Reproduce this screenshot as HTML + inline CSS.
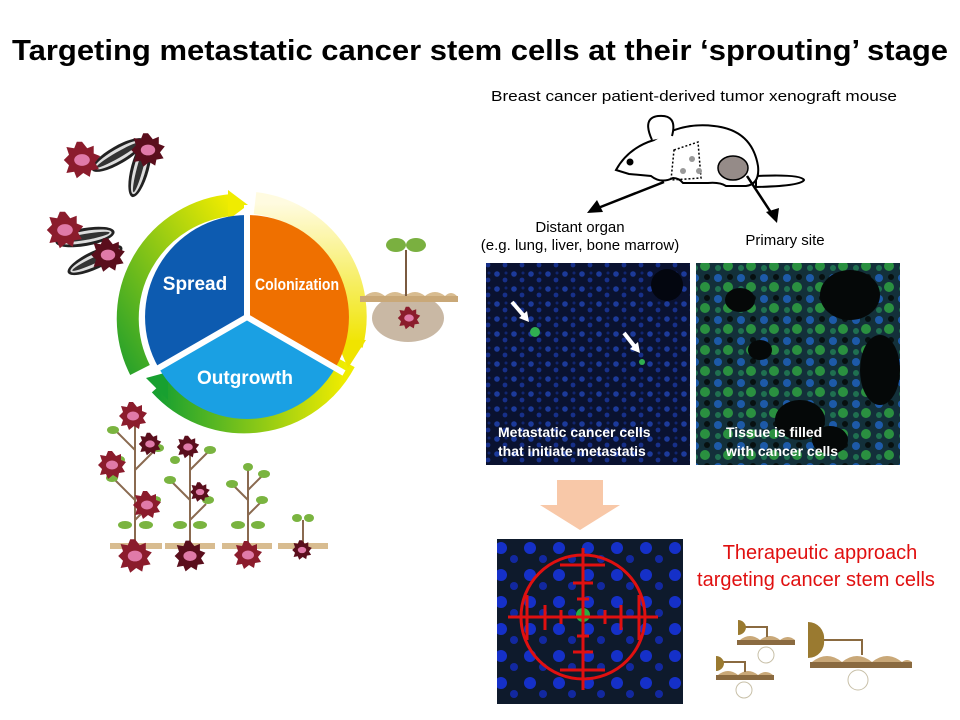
<!DOCTYPE html>
<html><head><meta charset="utf-8"><style>
html,body{margin:0;padding:0;background:#fff;}
svg{display:block;}
</style></head><body>
<svg width="960" height="720" viewBox="0 0 960 720" xmlns="http://www.w3.org/2000/svg" font-family="Liberation Sans, sans-serif">
<defs>
  <g id="fl">
    <polygon points="0,-14 4,-9 9,-11 9,-5 14,-3 10,2 13,7 7,8 6,13 1,10 -4,14 -6,9 -12,10 -10,4 -14,0 -10,-4 -12,-10 -6,-9 -4,-14" fill="#8b1c2c"/>
    <ellipse cx="0" cy="0" rx="6" ry="4.5" fill="#e07aa8"/>
  </g>
  <g id="fld">
    <polygon points="0,-14 4,-9 9,-11 9,-5 14,-3 10,2 13,7 7,8 6,13 1,10 -4,14 -6,9 -12,10 -10,4 -14,0 -10,-4 -12,-10 -6,-9 -4,-14" fill="#5a0e1c"/>
    <ellipse cx="0" cy="0" rx="6" ry="4.5" fill="#e07aa8"/>
  </g>
  <g id="seed">
    <ellipse cx="0" cy="0" rx="9" ry="30" fill="#222"/>
    <ellipse cx="0" cy="0" rx="6" ry="27" fill="#ddd"/>
    <ellipse cx="0" cy="0" rx="3" ry="25" fill="#333"/>
  </g>
  <linearGradient id="gA" x1="0" y1="1" x2="1" y2="0"><stop offset="0" stop-color="#2aa22a"/><stop offset="1" stop-color="#f0ec00"/></linearGradient>
  <linearGradient id="gB" x1="0" y1="0" x2="0" y2="1"><stop offset="0" stop-color="#fffbe0"/><stop offset="1" stop-color="#f0e400"/></linearGradient>
  <linearGradient id="gC" x1="1" y1="0" x2="0" y2="0"><stop offset="0" stop-color="#f0ec00"/><stop offset="1" stop-color="#18a030"/></linearGradient>
  <pattern id="nuc" width="17" height="15" patternUnits="userSpaceOnUse">
    <rect width="17" height="15" fill="#0a1230"/>
    <circle cx="4" cy="4" r="2.8" fill="#1c3a9a"/><circle cx="12" cy="10" r="2.4" fill="#17308a"/><circle cx="13" cy="3" r="1.5" fill="#112670"/>
  </pattern>
  <pattern id="tis" width="23" height="21" patternUnits="userSpaceOnUse">
    <rect width="23" height="21" fill="#13303a"/>
    <circle cx="5" cy="5" r="4" fill="#1d5aa8"/><circle cx="15" cy="14" r="5" fill="#2a9040"/><circle cx="17" cy="4" r="3" fill="#071010"/><circle cx="5" cy="16" r="3" fill="#1f7050"/>
  </pattern>
  <pattern id="big" width="29" height="27" patternUnits="userSpaceOnUse">
    <rect width="29" height="27" fill="#0e1a2c"/>
    <circle cx="8" cy="8" r="6" fill="#1530c8"/><circle cx="21" cy="19" r="4" fill="#1228a0"/>
  </pattern>
</defs>

<text x="480" y="60" text-anchor="middle" font-size="29" font-weight="bold" textLength="936" lengthAdjust="spacingAndGlyphs">Targeting metastatic cancer stem cells at their ‘sprouting’ stage</text>

<!-- seeds/flowers top-left -->
<g transform="translate(118,155) rotate(60)"><use href="#seed"/></g>
<g transform="translate(140,168) rotate(15)"><use href="#seed"/></g>
<g transform="translate(82,160) scale(1.3)"><use href="#fl"/></g>
<g transform="translate(148,150) scale(1.2)"><use href="#fld"/></g>
<g transform="translate(85,237) rotate(80)"><use href="#seed"/></g>
<g transform="translate(95,260) rotate(65)"><use href="#seed"/></g>
<g transform="translate(65,230) scale(1.3)"><use href="#fl"/></g>
<g transform="translate(108,255) scale(1.2)"><use href="#fld"/></g>

<!-- cycle ring -->
<g fill="none" stroke-width="22">
  <path d="M140,370 A114,114 0 0 1 232,205" stroke="url(#gA)"/>
  <path d="M255,203 A114,114 0 0 1 352,345" stroke="url(#gB)"/>
  <path d="M345,362 A114,114 0 0 1 160,385" stroke="url(#gC)"/>
</g>
<polygon points="228,190 248,205 228,220" fill="#f0ec00"/>
<polygon points="336,340 366,340 348,368" fill="#f0e400"/>
<polygon points="168,372 168,400 146,378" fill="#18a030"/>
<!-- pie -->
<path d="M247,317 L247,215 A102,102 0 0 0 158.7,368 Z" fill="#0d5bb0"/>
<path d="M247,317 L247,215 A102,102 0 0 1 335.3,368 Z" fill="#ef7000"/>
<path d="M247,317 L335.3,368 A102,102 0 0 1 158.7,368 Z" fill="#1aa0e3"/>
<g stroke="#fff" stroke-width="6"><line x1="247" y1="317" x2="247" y2="205"/><line x1="247" y1="317" x2="344" y2="373"/><line x1="247" y1="317" x2="150" y2="373"/></g>
<g fill="#fff" font-weight="bold" font-size="19">
<text x="195" y="290" text-anchor="middle">Spread</text>
<text x="297" y="290" text-anchor="middle" font-size="17" textLength="84" lengthAdjust="spacingAndGlyphs">Colonization</text>
<text x="245" y="384" text-anchor="middle">Outgrowth</text>
</g>

<!-- sprout right -->
<ellipse cx="408" cy="318" rx="36" ry="24" fill="#c9b8a4"/>
<rect x="360" y="296" width="98" height="6" fill="#c9a878"/>
<path d="M365,296 q10,-8 20,0 q10,-8 20,0 q10,-8 20,0 q10,-8 20,0 q6,-6 12,0z" fill="#d8bc90"/>
<line x1="406" y1="296" x2="406" y2="250" stroke="#7a5a40" stroke-width="2"/>
<ellipse cx="396" cy="245" rx="10" ry="7" fill="#7ab040"/><ellipse cx="416" cy="245" rx="10" ry="7" fill="#7ab040"/>
<use href="#fl" transform="translate(409,318) scale(0.8)"/>

<!-- plants bottom -->
<g stroke="#8a6a50" stroke-width="2" fill="none">
  <line x1="135" y1="545" x2="135" y2="420"/><line x1="190" y1="545" x2="190" y2="445"/><line x1="248" y1="545" x2="248" y2="470"/><line x1="303" y1="545" x2="303" y2="520"/>
  <path d="M135,500 l-20,-20 M135,470 l20,-20 M135,450 l-18,-18 M135,520 l18,-18 M190,500 l-18,-18 M190,470 l18,-18 M190,520 l16,-16 M248,500 l-15,-15 M248,490 l15,-15 M248,515 l14,-14"/>
</g>
<g fill="#7ab440">
  <ellipse cx="112" cy="478" rx="6" ry="4"/><ellipse cx="158" cy="448" rx="6" ry="4"/><ellipse cx="113" cy="430" rx="6" ry="4"/><ellipse cx="155" cy="500" rx="6" ry="4"/><ellipse cx="125" cy="525" rx="7" ry="4"/><ellipse cx="146" cy="525" rx="7" ry="4"/><ellipse cx="120" cy="460" rx="5" ry="4"/>
  <ellipse cx="170" cy="480" rx="6" ry="4"/><ellipse cx="210" cy="450" rx="6" ry="4"/><ellipse cx="208" cy="500" rx="6" ry="4"/><ellipse cx="180" cy="525" rx="7" ry="4"/><ellipse cx="200" cy="525" rx="7" ry="4"/><ellipse cx="175" cy="460" rx="5" ry="4"/>
  <ellipse cx="232" cy="484" rx="6" ry="4"/><ellipse cx="264" cy="474" rx="6" ry="4"/><ellipse cx="262" cy="500" rx="6" ry="4"/><ellipse cx="238" cy="525" rx="7" ry="4"/><ellipse cx="258" cy="525" rx="7" ry="4"/><ellipse cx="248" cy="467" rx="5" ry="4"/>
  <ellipse cx="297" cy="518" rx="5" ry="4"/><ellipse cx="309" cy="518" rx="5" ry="4"/>
</g>
<use href="#fl" transform="translate(133,416)"/><use href="#fld" transform="translate(150,444) scale(0.8)"/><use href="#fl" transform="translate(112,465)"/><use href="#fl" transform="translate(147,505)"/>
<use href="#fld" transform="translate(188,447) scale(0.8)"/><use href="#fld" transform="translate(200,492) scale(0.7)"/>
<g fill="#d8bc90"><rect x="110" y="543" width="52" height="6"/><rect x="165" y="543" width="50" height="6"/><rect x="222" y="543" width="50" height="6"/><rect x="278" y="543" width="50" height="6"/></g>
<use href="#fl" transform="translate(135,556) scale(1.2)"/><use href="#fld" transform="translate(190,556) scale(1.1)"/><use href="#fl" transform="translate(248,555)"/><use href="#fld" transform="translate(302,550) scale(0.7)"/>

<!-- right side -->
<text x="694" y="101" text-anchor="middle" font-size="15" textLength="406" lengthAdjust="spacingAndGlyphs">Breast cancer patient-derived tumor xenograft mouse</text>
<!-- mouse -->
<g stroke="#000" stroke-width="2" fill="#fff">
  <path d="M756,176 q45,-2 48,4 q-3,6 -48,7z"/>
  <path d="M616,170 q12,-22 38,-30 q28,-18 60,-14 q38,4 44,40 q2,18 -12,20 l-20,0 q-6,-4 -18,-3 l-25,0 q-4,-5 -10,-5 q-12,6 -22,-2 l-22,-2z"/>
  <path d="M652,140 q-10,-22 6,-24 q20,-2 14,20"/>
</g>
<circle cx="630" cy="162" r="3.5"/>
<path d="M674,150 l24,-8 l3,36 l-30,2z" fill="none" stroke="#000" stroke-width="1.5" stroke-dasharray="2,2"/>
<g fill="#999"><circle cx="683" cy="171" r="3"/><circle cx="692" cy="159" r="3"/><circle cx="699" cy="171" r="3"/></g>
<ellipse cx="733" cy="168" rx="15" ry="12" fill="#958b88" stroke="#000" stroke-width="1.5"/>
<g stroke="#000" stroke-width="2.5"><line x1="664" y1="182" x2="598" y2="208"/><line x1="747" y1="176" x2="772" y2="214"/></g>
<polygon points="587,213 597,200 603,212" fill="#000"/><polygon points="777,223 766,212 779,208" fill="#000"/>
<text x="580" y="232" text-anchor="middle" font-size="15">Distant organ</text>
<text x="580" y="250" text-anchor="middle" font-size="15">(e.g. lung, liver, bone marrow)</text>
<text x="785" y="245" text-anchor="middle" font-size="15">Primary site</text>

<rect x="486" y="263" width="204" height="202" fill="url(#nuc)"/>
<circle cx="667" cy="285" r="16" fill="#03060f"/>
<circle cx="535" cy="332" r="5" fill="#30b050"/><circle cx="642" cy="362" r="3" fill="#30b050"/>
<g stroke="#fff" stroke-width="4"><line x1="512" y1="302" x2="524" y2="316"/><line x1="624" y1="333" x2="635" y2="347"/></g>
<polygon points="519,318 529,322 527,311" fill="#fff"/><polygon points="630,349 640,353 638,342" fill="#fff"/>
<g fill="#fff" font-weight="bold" font-size="14"><text x="498" y="437">Metastatic cancer cells</text><text x="498" y="456">that initiate metastatis</text></g>

<rect x="696" y="263" width="204" height="202" fill="url(#tis)"/>
<g fill="#050808"><ellipse cx="850" cy="295" rx="30" ry="25"/><ellipse cx="880" cy="370" rx="20" ry="35"/><ellipse cx="800" cy="420" rx="25" ry="20"/><ellipse cx="740" cy="300" rx="15" ry="12"/><ellipse cx="760" cy="350" rx="12" ry="10"/><ellipse cx="830" cy="440" rx="18" ry="14"/></g>
<g fill="#fff" font-weight="bold" font-size="14"><text x="726" y="437">Tissue is filled</text><text x="726" y="456">with cancer cells</text></g>

<polygon points="557,480 603,480 603,505 620,505 580,530 540,505 557,505" fill="#f8c8a8"/>

<rect x="497" y="539" width="186" height="165" fill="url(#big)"/>
<circle cx="583" cy="615" r="7" fill="#28b040"/>
<g stroke="#e01010" stroke-width="3" fill="none">
  <circle cx="583" cy="617" r="62"/>
  <line x1="508" y1="617" x2="658" y2="617"/><line x1="583" y1="548" x2="583" y2="690"/>
  <line x1="560" y1="565" x2="605" y2="565"/><line x1="573" y1="583" x2="593" y2="583"/><line x1="577" y1="599" x2="589" y2="599"/>
  <line x1="560" y1="670" x2="605" y2="670"/><line x1="573" y1="652" x2="593" y2="652"/><line x1="577" y1="636" x2="589" y2="636"/>
  <line x1="527" y1="595" x2="527" y2="640"/><line x1="545" y1="605" x2="545" y2="630"/><line x1="561" y1="610" x2="561" y2="624"/>
  <line x1="639" y1="595" x2="639" y2="640"/><line x1="621" y1="605" x2="621" y2="630"/><line x1="605" y1="610" x2="605" y2="624"/>
</g>

<g fill="#e01010" font-size="20"><text x="820" y="559" text-anchor="middle">Therapeutic approach</text><text x="816" y="586" text-anchor="middle">targeting cancer stem cells</text></g>

<g fill="#c9a878">
  <rect x="737" y="640" width="58" height="5" fill="#8a6a40"/><path d="M740,640 q10,-8 20,0 q10,-8 20,0 q8,-6 15,0z"/>
  <rect x="716" y="675" width="58" height="5" fill="#8a6a40"/><path d="M718,675 q10,-8 20,0 q10,-8 20,0 q8,-6 15,0z"/>
  <rect x="810" y="662" width="102" height="6" fill="#8a6a40"/><path d="M812,662 q15,-12 30,0 q15,-12 30,0 q15,-12 30,0 q5,-4 10,0z"/>
</g>
<g stroke="#8a6a40" stroke-width="2" fill="none"><path d="M745,627 h22 v10"/><path d="M723,662 h22 v10"/><path d="M822,640 h40 v15"/></g>
<g fill="#9a7a30"><path d="M738,620 a8,8 0 0 1 8,7 a8,8 0 0 1 -8,8z"/><path d="M716,656 a8,8 0 0 1 8,7 a8,8 0 0 1 -8,8z"/><path d="M808,622 a16,16 0 0 1 16,18 a16,16 0 0 1 -16,18z"/></g>
<g fill="none" stroke="#c8c0a8" stroke-width="1"><circle cx="766" cy="655" r="8"/><circle cx="744" cy="690" r="8"/><circle cx="858" cy="680" r="10"/></g>
</svg>
</body></html>
